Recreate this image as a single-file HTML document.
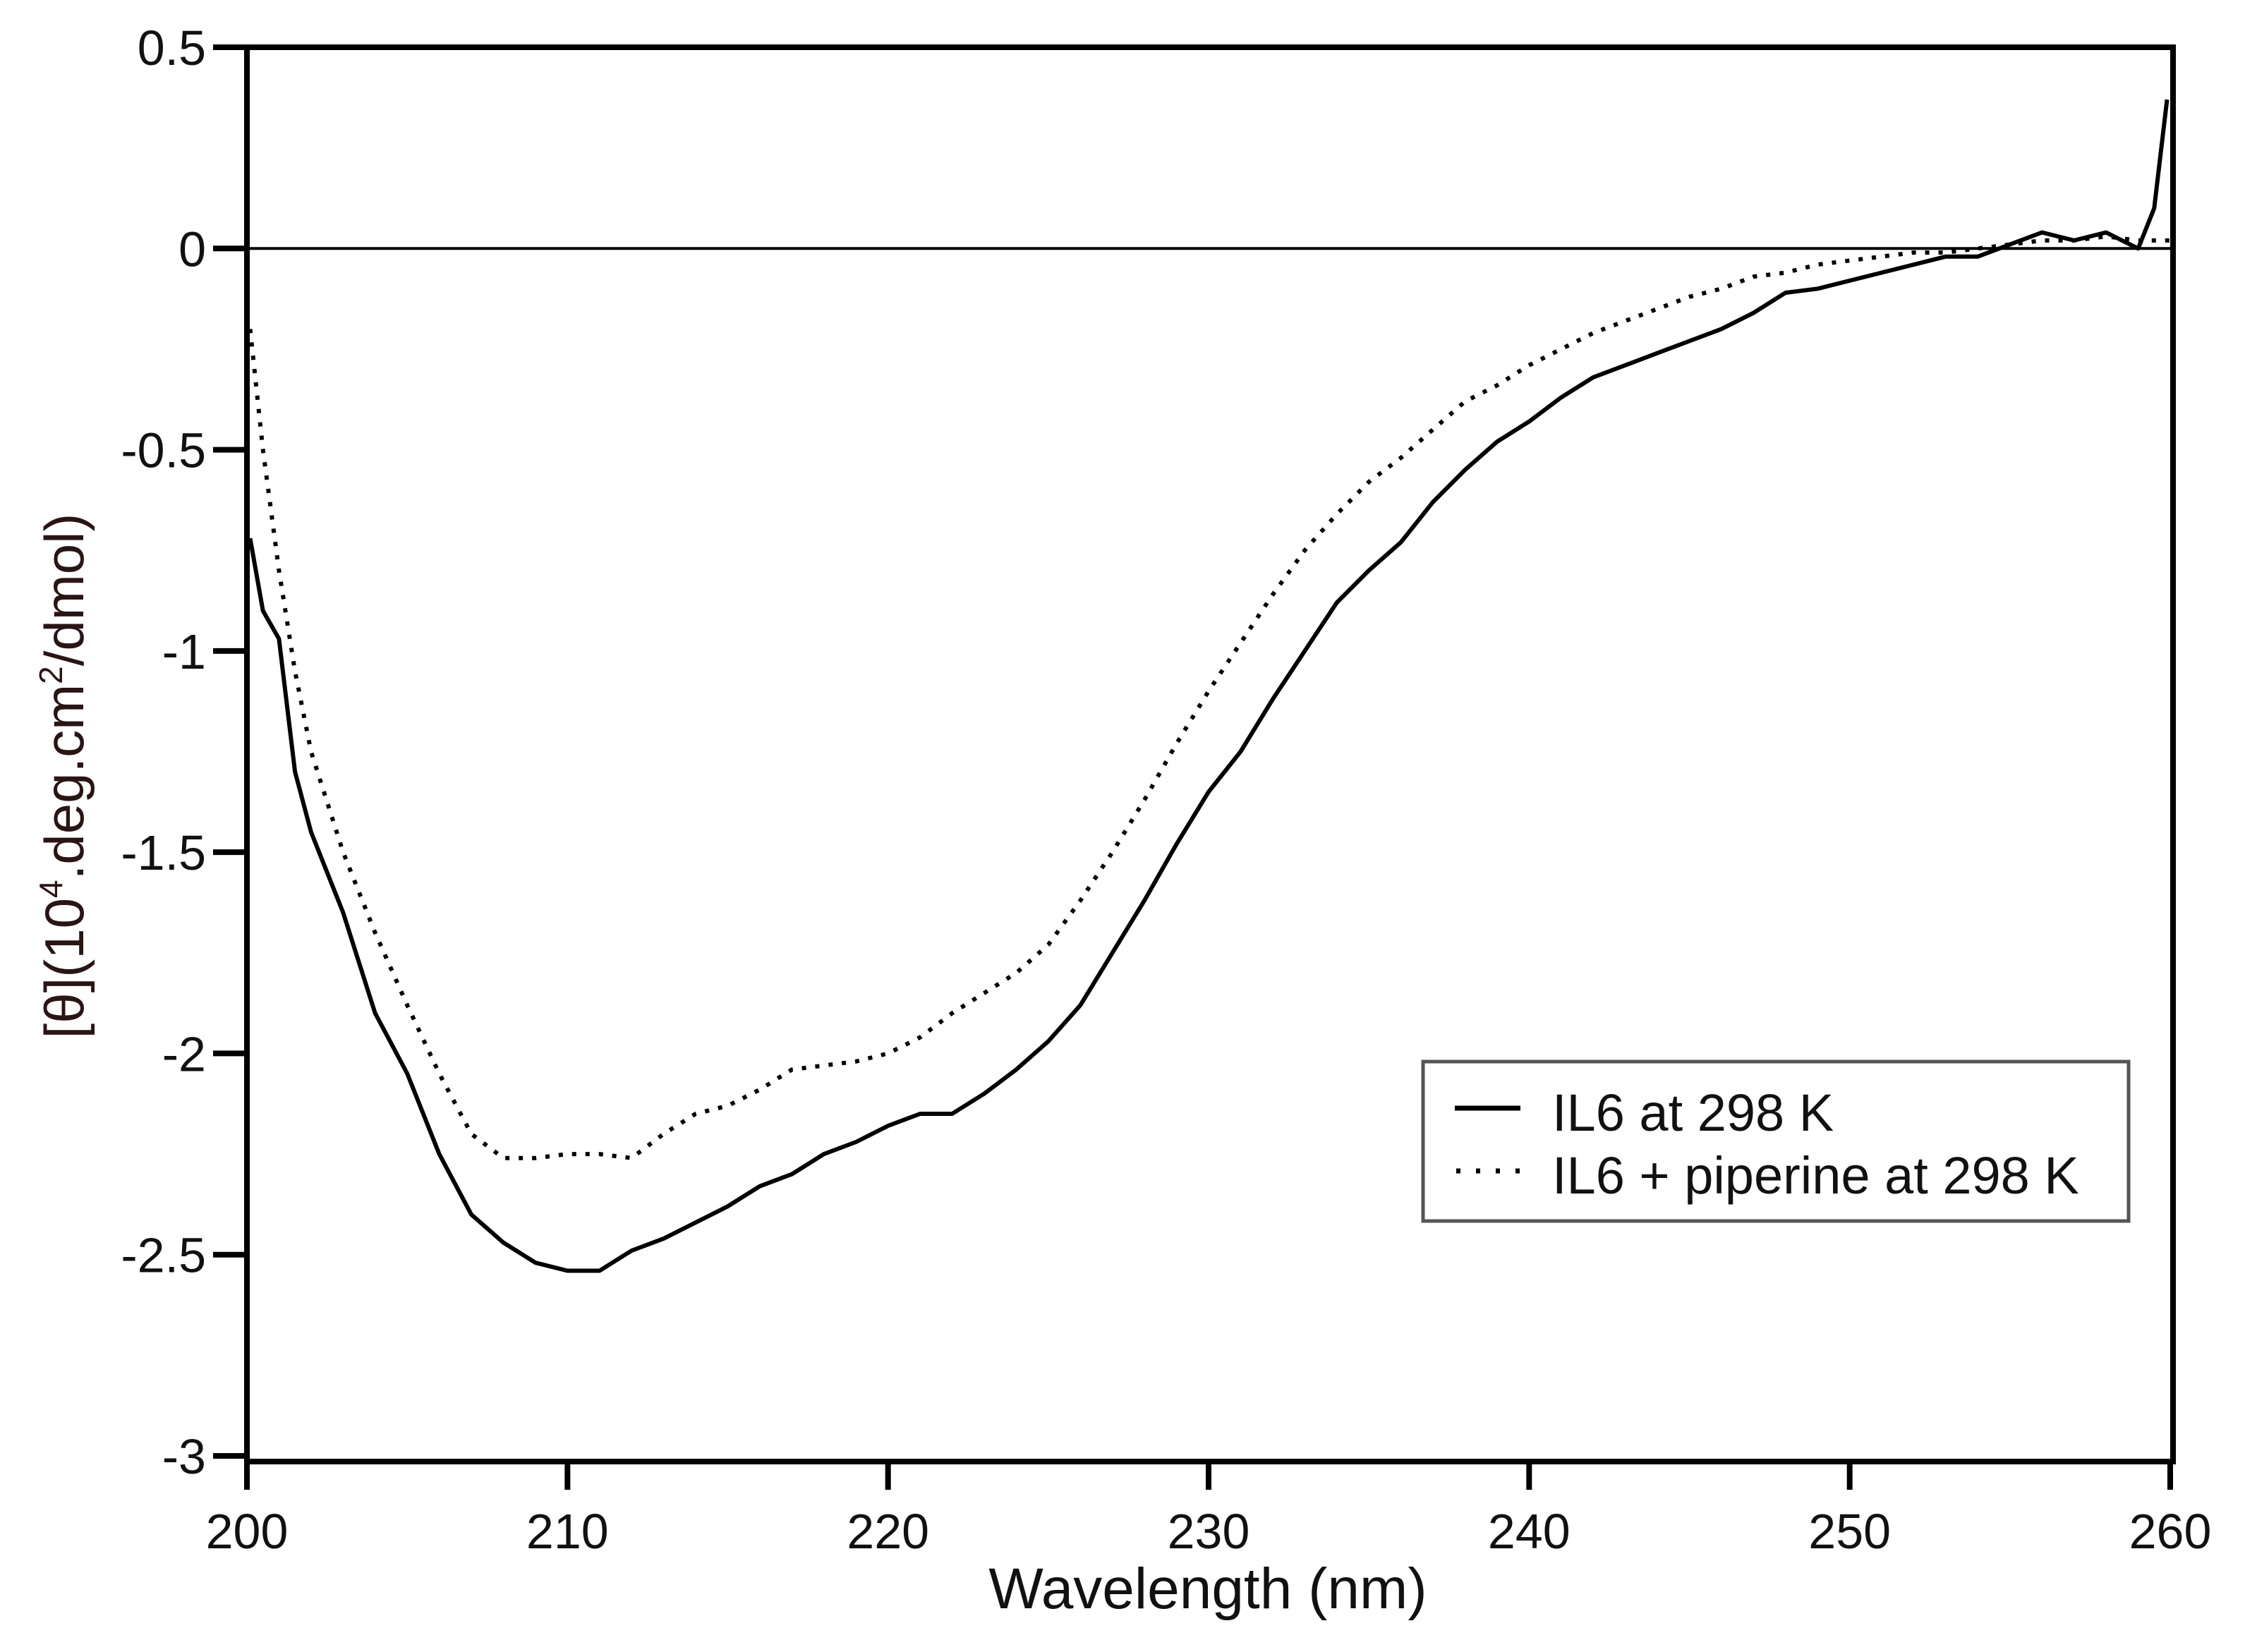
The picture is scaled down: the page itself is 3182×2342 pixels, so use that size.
<!DOCTYPE html>
<html><head><meta charset="utf-8"><style>
html,body{margin:0;padding:0;background:#fff;}
svg{display:block;}
text{font-family:"Liberation Sans",sans-serif;fill:#111;}
</style></head><body>
<svg id="chart" width="3182" height="2342" viewBox="0 0 3182 2342" xmlns="http://www.w3.org/2000/svg">
<g id="plot"></g>
<text x="1712" y="2280" font-size="82" text-anchor="middle">Wavelength (nm)</text>
<text transform="translate(118,1100) rotate(-90)" font-size="78" text-anchor="middle" style="fill:#2a1515">[θ](10<tspan font-size="46" dy="-30">4</tspan><tspan dy="30">.deg.cm</tspan><tspan font-size="46" dy="-30">2</tspan><tspan dy="30">/dmol)</tspan></text>
<g>
<rect x="2017" y="1505" width="1000" height="226" fill="#fff" stroke="#555" stroke-width="5"/>
<line x1="2062" y1="1571" x2="2155" y2="1571" stroke="#000" stroke-width="7"/>
<text x="2200" y="1603" font-size="74">IL6  at 298 K</text>
<line x1="2064" y1="1660" x2="2155" y2="1660" stroke="#000" stroke-width="7" stroke-dasharray="6 22"/>
<text x="2200" y="1692" font-size="74">IL6 + piperine at 298 K</text>
</g>
</svg>
<script>
const xTicks = [200,210,220,230,240,250,260];
const yTicks = [0.5,0,-0.5,-1,-1.5,-2,-2.5,-3];
const yTickLabels = ["0.5","0","-0.5","-1","-1.5","-2","-2.5","-3"];
const wl1 = [200.1,200.5,201,201.5,202,203,204,205,206,207,208,209,210,211,212,213,214,215,216,217,218,219,220,221,222,223,224,225,226,227,228,229,230,231,232,233,234,235,236,237,238,239,240,241,242,243,244,245,246,247,248,249,250,251,252,253,254,255,256,257,258,258.5,259,259.5,259.9];
const il6 = [-0.72,-0.9,-0.97,-1.3,-1.45,-1.65,-1.9,-2.05,-2.25,-2.4,-2.47,-2.52,-2.54,-2.54,-2.49,-2.46,-2.42,-2.38,-2.33,-2.3,-2.25,-2.22,-2.18,-2.15,-2.15,-2.1,-2.04,-1.97,-1.88,-1.75,-1.62,-1.48,-1.35,-1.25,-1.12,-1.0,-0.88,-0.8,-0.73,-0.63,-0.55,-0.48,-0.43,-0.37,-0.32,-0.29,-0.26,-0.23,-0.2,-0.16,-0.11,-0.1,-0.08,-0.06,-0.04,-0.02,-0.02,0.01,0.04,0.02,0.04,0.02,0.0,0.1,0.37];
const wl2 = [200.1,200.5,201,201.5,202,203,204,205,206,207,208,209,210,211,212,213,214,215,216,217,218,219,220,221,222,223,224,225,226,227,228,229,230,231,232,233,234,235,236,237,238,239,240,241,242,243,244,245,246,247,248,249,250,251,252,253,254,255,256,257,258,259,260];
const il6Pip = [-0.2,-0.5,-0.8,-1.05,-1.25,-1.5,-1.7,-1.88,-2.05,-2.2,-2.26,-2.26,-2.25,-2.25,-2.26,-2.2,-2.15,-2.13,-2.09,-2.04,-2.03,-2.02,-2.0,-1.96,-1.9,-1.85,-1.8,-1.73,-1.62,-1.5,-1.37,-1.23,-1.1,-0.98,-0.86,-0.75,-0.66,-0.58,-0.52,-0.45,-0.38,-0.34,-0.29,-0.25,-0.21,-0.18,-0.15,-0.12,-0.1,-0.07,-0.06,-0.04,-0.03,-0.02,-0.01,-0.01,0.0,0.01,0.02,0.02,0.03,0.02,0.02];

const NS='http://www.w3.org/2000/svg';
const L=350,R=3076,T=67,B=2064;
function sx(v){return L+(v-200)/60*(R-L);}
function sy(v){return T+(0.5-v)/3.5*(B-T);}
const g=document.getElementById('plot');
function mk(tag,attrs){const e=document.createElementNS(NS,tag);for(const k in attrs)e.setAttribute(k,attrs[k]);g.appendChild(e);return e;}

// zero line
let z=mk('line',{x1:L,y1:sy(0),x2:R,y2:sy(0),stroke:'#000','stroke-width':4});



// series
function path(xs,ys){return xs.map((x,i)=>(i?'L':'M')+sx(x).toFixed(1)+','+sy(ys[i]).toFixed(1)).join(' ');}
let p1=mk('path',{d:path(wl1,il6),fill:'none',stroke:'#000','stroke-width':6,'stroke-linejoin':'round'});


let p2=mk('path',{d:path(wl2,il6Pip),fill:'none',stroke:'#000','stroke-width':6,'stroke-dasharray':'6 13'});



// axes frame
let f=mk('path',{d:`M${L},${T} H${R+4} V2072 H${L} Z`,fill:'none',stroke:'#000','stroke-width':8});



// y ticks
yTicks.forEach((v,i)=>{
  let t=mk('line',{x1:L-48,y1:sy(v),x2:L,y2:sy(v),stroke:'#000','stroke-width':8});
  
  
  let tx=mk('text',{x:L-58,y:sy(v)+25,'font-size':70,'text-anchor':'end'});
  tx.textContent=yTickLabels[i];
  
  
});
// x ticks
xTicks.forEach(v=>{
  let t=mk('line',{x1:sx(v),y1:2072,x2:sx(v),y2:2112,stroke:'#000','stroke-width':8});
  
  
  let tx=mk('text',{x:sx(v),y:2195,'font-size':70,'text-anchor':'middle'});
  tx.textContent=String(v);
  
  
});
</script>
</body></html>
